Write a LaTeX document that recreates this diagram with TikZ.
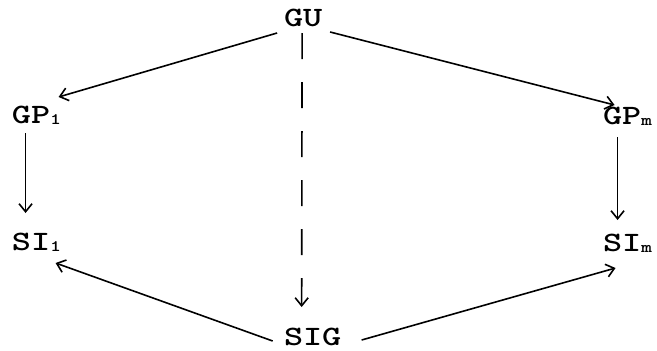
\documentclass[tikz,border=0pt]{standalone}
\usepackage{fontspec}
\usetikzlibrary{arrows.meta,calc}
\newcommand{\subsc}[1]{\raisebox{-1pt}{\fontsize{16}{16}\selectfont #1}}
\newcommand{\tw}[1]{\scalebox{1.3}[1]{#1}}
\tikzset{
  lbl/.style={inner sep=0pt, outer sep=0pt, anchor=base west, font=\ttfamily\bfseries\fontsize{28}{28}\selectfont},
  conn/.style={line width=1.6pt, -{Straight Barb[length=8pt,width=13pt,line width=1.6pt]}},
  dconn/.style={conn, dash pattern=on 26pt off 23pt}
}
\begin{document}
\begin{tikzpicture}[x=1pt,y=-1pt]
\useasboundingbox (0,0) rectangle (657,351);
\node[lbl] (GU)  at (284,26)  {\tw{GU}};
\node[lbl] (GP1) at (12,123)  {\tw{GP\subsc{1}}};
\node[lbl] (GPm) at (603,124) {\tw{GP\subsc{m}}};
\node[lbl] (SI1) at (12,250)  {\tw{SI\subsc{1}}};
\node[lbl] (SIm) at (603,251) {\tw{SI\subsc{m}}};
\node[lbl] (SIG) at (284,345) {\tw{SIG}};
\draw[conn] ($(GU.base)+(-26,7)$) -- ($(GP1.base)+(22,-26)$);
\draw[conn] ($(GU.base)+(27,6)$) -- ($(GPm.base)+(-13,-19)$);
\draw[dconn] ($(GU.base)+(-1,7)$) -- ($(SIG.base)+(-11,-38)$);
\draw[conn] ($(GP1.base)+(-11,10)$) -- ($(SI1.base)+(-11,-37)$);
\draw[conn] ($(GPm.base)+(-10,13)$) -- ($(SIm.base)+(-10,-31)$);
\draw[conn] ($(SIG.base)+(-40,-4)$) -- ($(SI1.base)+(19,13)$);
\draw[conn] ($(SIG.base)+(49,-5)$) -- ($(SIm.base)+(-12,17)$);
\end{tikzpicture}
\end{document}
